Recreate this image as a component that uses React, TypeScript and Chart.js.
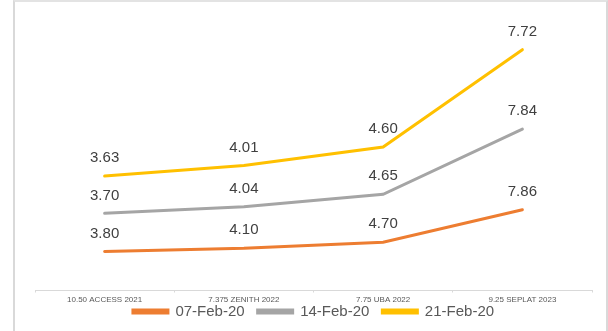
import React, { useEffect, useRef } from "react";
import { Chart, registerables } from "chart.js";

Chart.register(...registerables);

const categories = ["10.50 ACCESS 2021", "7.375 ZENITH 2022", "7.75 UBA 2022", "9.25 SEPLAT 2023"];
const seriesNames = ["07-Feb-20", "14-Feb-20", "21-Feb-20"];
const feb07 = [3.8, 4.1, 4.7, 7.86];
const feb14 = [3.7, 4.04, 4.65, 7.84];
const feb21 = [3.63, 4.01, 4.6, 7.72];
const seriesColors = ["#ED7D31", "#A5A5A5", "#FFC000"];

const FONT = "'Liberation Sans', Arial, sans-serif";

const valueLabels = {
  id: "valueLabels",
  afterLayout(chart: any) {
    // the x scale was squeezed so the legend sits close; let its labels be drawn below it
    const x = chart.scales.x;
    if (x) x.bottom = x.top + 16;
  },
  afterDatasetsDraw(chart: any) {
    const ctx = chart.ctx;
    ctx.save();
    ctx.font = `15px ${FONT}`;
    ctx.fillStyle = "#404040";
    ctx.textAlign = "center";
    ctx.textBaseline = "middle";
    chart.data.datasets.forEach((ds: any, i: number) => {
      const meta = chart.getDatasetMeta(i);
      meta.data.forEach((pt: any, j: number) => {
        ctx.fillText(Number(ds.data[j]).toFixed(2), pt.x, pt.y - 18);
      });
    });
    ctx.restore();
  },
};

export default function App() {
  const ref = useRef<HTMLCanvasElement>(null);
  useEffect(() => {
    if (!ref.current) return;
    const data = [feb07, feb14, feb21];
    const chart = new Chart(ref.current, {
      type: "line",
      data: {
        labels: categories,
        datasets: seriesNames.map((name, i) => ({
          label: name,
          data: data[i],
          borderColor: seriesColors[i],
          backgroundColor: seriesColors[i],
          borderWidth: 3,
          borderCapStyle: "round",
          pointRadius: 0,
          pointHoverRadius: 0,
          tension: 0,
          fill: false,
        })),
      },
      options: {
        responsive: false,
        maintainAspectRatio: false,
        animation: false,
        devicePixelRatio: 1,
        layout: { padding: { left: 35, right: 16, top: 33.4, bottom: 2 } },
        plugins: {
          tooltip: { enabled: false },
          legend: {
            position: "bottom",
            labels: {
              boxWidth: 35,
              boxHeight: 3,
              padding: 13,
              color: "#595959",
              font: { family: FONT, size: 15 },
            },
          },
        },
        scales: {
          x: {
            offset: true,
            afterFit: (scale: any) => {
              scale.height = 0.5;
            },
            grid: {
              display: true,
              drawOnChartArea: false,
              drawTicks: true,
              tickLength: 2,
              offset: true,
              color: "#d9d9d9",
            },
            border: { display: true, color: "#d9d9d9", width: 1 },
            ticks: {
              padding: 2,
              color: "#595959",
              font: { family: FONT, size: 8 },
              maxRotation: 0,
              autoSkip: false,
            },
          },
          y: {
            display: false,
            stacked: true,
            min: 0,
            max: 25,
          },
        },
      },
      plugins: [valueLabels],
    } as any);
    return () => chart.destroy();
  }, []);

  return (
    <div style={{ position: "fixed", left: 0, top: 0, width: 608, height: 331, background: "#fff", overflow: "hidden" }}>
      <div
        style={{
          position: "absolute",
          left: 13,
          top: 0,
          width: 595,
          height: 400,
          boxSizing: "border-box",
          borderLeft: "2px solid #d9d9d9",
          borderTop: "2px solid #e3e3e3",
          borderRight: "2px solid #d9d9d9",
        }}
      />
      <canvas ref={ref} width={608} height={331} style={{ position: "absolute", left: 0, top: 0, width: 608, height: 331 }} />
    </div>
  );
}
